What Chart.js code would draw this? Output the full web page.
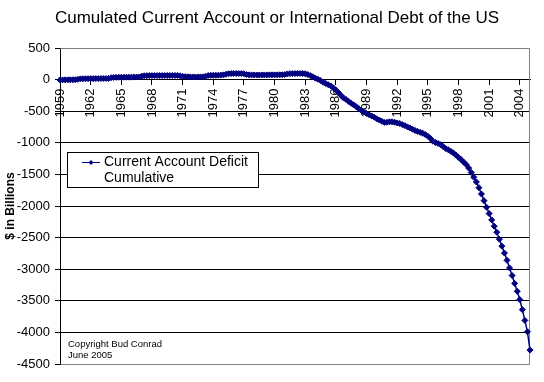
<!DOCTYPE html>
<html>
<head>
<meta charset="utf-8">
<script src="https://cdn.jsdelivr.net/npm/chart.js@4/dist/chart.umd.min.js"></script>
<style>
  html, body { margin: 0; padding: 0; background: #ffffff; }
  #wrap { width: 544px; height: 382px; position: relative; }
</style>
</head>
<body>
<div id="wrap"><canvas id="c" width="544" height="382"></canvas></div>
<script>
// ---- Data (quarterly, 1959 Q1 .. 2005 Q1), $ billions ----
const firstYear = 1959;
const lastYear = 2005;
const tickYears = [1959, 1962, 1965, 1968, 1971, 1974, 1977, 1980, 1983, 1986, 1989, 1992, 1995, 1998, 2001, 2004];
const yTickValues = [500, 0, -500, -1000, -1500, -2000, -2500, -3000, -3500, -4000, -4500];

const cumulativeDeficit = [
  -5, -5, -4, -4,          // 1959
  -3, -3, -2, 5,           // 1960
  12, 13, 14, 14,          // 1961
  15, 15, 16, 16,          // 1962
  17, 17, 18, 18,          // 1963
  30, 34, 36, 37,          // 1964
  37, 38, 38, 39,          // 1965
  39, 40, 40, 41,          // 1966
  55, 60, 62, 63,          // 1967
  63, 63, 64, 64,          // 1968
  64, 64, 65, 65,          // 1969
  65, 66, 66, 60,          // 1970
  52, 46, 44, 43,          // 1971
  42, 42, 42, 43,          // 1972
  45, 52, 64, 68,          // 1973
  68, 69, 70, 71,          // 1974
  75, 85, 93, 95,          // 1975
  96, 96, 96, 95,          // 1976
  92, 80, 75, 74,          // 1977
  74, 73, 73, 74,          // 1978
  74, 74, 75, 75,          // 1979
  75, 75, 76, 76,          // 1980
  80, 90, 94, 95,          // 1981
  95, 96, 96, 95,          // 1982
  92, 80, 63, 45,          // 1983
  22, 5, -15, -42,         // 1984
  -60, -80, -100, -130,    // 1985
  -165, -205, -250, -290,  // 1986
  -315, -345, -375, -400,  // 1987
  -430, -460, -490, -515,  // 1988
  -535, -555, -575, -595,  // 1989
  -620, -640, -660, -678,  // 1990
  -675, -668, -668, -675,  // 1991
  -685, -695, -712, -728,  // 1992
  -748, -765, -785, -805,  // 1993
  -820, -835, -850, -868,  // 1994
  -895, -930, -975, -995,  // 1995
  -1010, -1030, -1060, -1090, // 1996
  -1110, -1135, -1160, -1195, // 1997
  -1230, -1265, -1305, -1345, // 1998
  -1400, -1470, -1545, -1620, // 1999
  -1710, -1810, -1915, -2020, // 2000
  -2120, -2220, -2320, -2415, // 2001
  -2525, -2635, -2745, -2860, // 2002
  -2980, -3100, -3225, -3350, // 2003
  -3480, -3640, -3810, -3990, // 2004
  -4280                       // 2005 Q1
];

// category labels: one per quarter
const quarters = [];
for (let y = firstYear; y <= lastYear; y++) {
  for (let q = 1; q <= 4; q++) {
    if (quarters.length < cumulativeDeficit.length) quarters.push(y + ' Q' + q);
  }
}

const FONT = '"Liberation Sans", Arial, Helvetica, sans-serif';
Chart.defaults.font.family = FONT;
Chart.defaults.color = '#000000';

const NAVY = '#000080';

const decorPlugin = {
  id: 'decor',
  beforeDatasetsDraw(chart) {
    const { ctx, chartArea: a } = chart;
    ctx.save();
    ctx.strokeStyle = '#808080';
    ctx.lineWidth = 1;
    ctx.beginPath();
    ctx.moveTo(Math.round(a.left) + 0.5, Math.round(a.top) + 0.5);
    ctx.lineTo(Math.round(a.right) - 0.5, Math.round(a.top) + 0.5);
    ctx.lineTo(Math.round(a.right) - 0.5, Math.round(a.bottom) + 0.5);
    ctx.lineTo(Math.round(a.left) + 0.5, Math.round(a.bottom) + 0.5);
    ctx.stroke();
    ctx.restore();
  },
  afterDraw(chart) {
    const { ctx } = chart;
    ctx.save();
    // Title
    ctx.fillStyle = '#000';
    ctx.font = '17px ' + FONT;
    ctx.textAlign = 'center';
    ctx.textBaseline = 'middle';
    ctx.fillText('Cumulated Current Account or International Debt of the US', 277, 18);

    // Y axis title
    ctx.save();
    ctx.translate(11, 206);
    ctx.rotate(-Math.PI / 2);
    ctx.font = 'bold 12px ' + FONT;
    ctx.fillText('$ in Billions', 0, 0);
    ctx.restore();

    // Legend box
    ctx.fillStyle = '#ffffff';
    ctx.fillRect(67, 152, 191, 35);
    ctx.strokeStyle = '#000';
    ctx.lineWidth = 1;
    ctx.strokeRect(67.5, 152.5, 191, 35);
    ctx.strokeStyle = NAVY;
    ctx.beginPath();
    ctx.moveTo(82, 162.5);
    ctx.lineTo(100, 162.5);
    ctx.stroke();
    ctx.fillStyle = NAVY;
    ctx.beginPath();
    ctx.moveTo(91, 160);
    ctx.lineTo(93.5, 162.5);
    ctx.lineTo(91, 165);
    ctx.lineTo(88.5, 162.5);
    ctx.closePath();
    ctx.fill();
    ctx.fillStyle = '#000';
    ctx.font = '14px ' + FONT;
    ctx.textAlign = 'left';
    ctx.fillText('Current Account Deficit', 104, 162);
    ctx.fillText('Cumulative', 104, 178);

    // Copyright
    ctx.font = '9.5px ' + FONT;
    ctx.fillText('Copyright Bud Conrad', 68, 344);
    ctx.fillText('June 2005', 68, 355);
    ctx.restore();
  }
};

new Chart(document.getElementById('c'), {
  type: 'line',
  data: {
    labels: quarters,
    datasets: [{
      label: 'Current Account Deficit Cumulative',
      data: cumulativeDeficit,
      borderColor: NAVY,
      backgroundColor: NAVY,
      borderWidth: 1.5,
      pointStyle: 'rectRot',
      pointRadius: 3,
      pointBorderWidth: 1,
      pointBorderColor: NAVY,
      pointBackgroundColor: NAVY,
      tension: 0,
      fill: false
    }]
  },
  options: {
    responsive: false,
    animation: false,
    events: [],
    layout: { padding: { left: 0, right: 14, top: 48, bottom: 18 } },
    plugins: {
      legend: { display: false },
      title: { display: false },
      tooltip: { enabled: false }
    },
    scales: {
      x: {
        type: 'category',
        position: { y: 0 },
        offset: false,
        grid: {
          display: true,
          drawOnChartArea: false,
          drawTicks: true,
          tickLength: 5,
          color: 'rgba(0,0,0,0)',
          tickColor: (c) => (c.index % 12 === 0 ? '#000000' : 'rgba(0,0,0,0)')
        },
        border: { display: true, color: '#000000', width: 1 },
        ticks: {
          autoSkip: false,
          minRotation: 90,
          maxRotation: 90,
          padding: 4,
          color: '#000000',
          font: { size: 13 },
          callback: (val, idx) => (idx % 12 === 0 ? String(tickYears[idx / 12]) : '')
        },
        afterFit: (s) => { s.paddingLeft = 0; s.paddingRight = 0; }
      },
      y: {
        type: 'linear',
        min: -4500,
        max: 500,
        afterBuildTicks: (s) => { s.ticks = yTickValues.map(v => ({ value: v })); },
        grid: {
          color: (c) => ((c.tick && (c.tick.value === 500 || c.tick.value === -4500)) ? 'rgba(0,0,0,0)' : '#000000'),
          tickColor: '#000000',
          tickLength: 5,
          lineWidth: 1
        },
        border: { display: true, color: '#000000', width: 1 },
        ticks: {
          padding: 5,
          color: '#000000',
          font: { size: 13 },
          callback: (v) => String(v)
        },
        afterFit: (s) => { s.width = 60; }
      }
    }
  },
  plugins: [decorPlugin]
});
</script>
</body>
</html>
